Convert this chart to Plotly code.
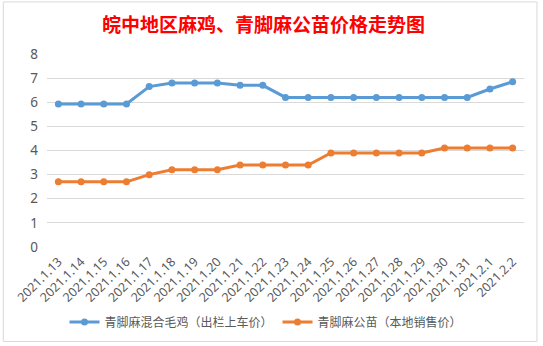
import plotly.graph_objects as go

dates = ["2021.1.13", "2021.1.14", "2021.1.15", "2021.1.16", "2021.1.17", "2021.1.18",
         "2021.1.19", "2021.1.20", "2021.1.21", "2021.1.22", "2021.1.23", "2021.1.24",
         "2021.1.25", "2021.1.26", "2021.1.27", "2021.1.28", "2021.1.29", "2021.1.30",
         "2021.1.31", "2021.2.1", "2021.2.2"]
mixed_chicken = [5.93, 5.93, 5.93, 5.93, 6.65, 6.8, 6.8, 6.8, 6.7, 6.7, 6.2, 6.2,
                 6.2, 6.2, 6.2, 6.2, 6.2, 6.2, 6.2, 6.55, 6.85]
male_chick = [2.7, 2.7, 2.7, 2.7, 3.0, 3.2, 3.2, 3.2, 3.4, 3.4, 3.4, 3.4,
              3.9, 3.9, 3.9, 3.9, 3.9, 4.1, 4.1, 4.1, 4.1]
series_names = ["青脚麻混合毛鸡（出栏上车价）", "青脚麻公苗（本地销售价）"]
title_text = "皖中地区麻鸡、青脚麻公苗价格走势图"
y_ticks = [0, 1, 2, 3, 4, 5, 6, 7, 8]

W, H = 543, 346
L, R, T, B = 46.7, 524, 54, 246.7

fig = go.Figure()
for name, vals, col in [(series_names[0], mixed_chicken, "#5B9BD5"),
                        (series_names[1], male_chick, "#ED7D31")]:
    fig.add_trace(go.Scatter(
        x=dates, y=vals, name=name, mode="lines+markers",
        line=dict(color=col, width=3),
        marker=dict(color=col, size=7),
    ))

pw, ph = R - L, B - T
def px(x):
    return (x - L) / pw
def py(y):
    return (B - y) / ph

fig.update_layout(
    width=W, height=H,
    margin=dict(l=L, r=W - R, t=T, b=H - B, autoexpand=False),
    paper_bgcolor="white", plot_bgcolor="white",
    font=dict(family="Noto Sans CJK SC, Noto Sans, sans-serif", color="#595959", size=12),
    title=dict(text=title_text, x=263.5 / W, xanchor="center", xref="container",
               y=1 - 25 / H, yanchor="middle", yref="container",
               font=dict(family="Noto Sans CJK SC", size=19, color="#FF0000", weight="bold")),
    showlegend=True,
    legend=dict(orientation="h", xref="container", yref="container",
                x=266 / W, xanchor="center", y=1 - 322 / H, yanchor="middle",
                font=dict(size=12, color="#595959"), itemwidth=30,
                bgcolor="rgba(0,0,0,0)"),
    xaxis=dict(type="category", range=[-0.5, len(dates) - 0.5], tickangle=-45,
               showgrid=False, showline=False, ticks="", zeroline=False,
               ticklabelstandoff=4, automargin=False,
               tickfont=dict(size=12.5, color="#595959", family="Noto Sans, sans-serif")),
    yaxis=dict(range=[0, 8], tickvals=y_ticks, showgrid=True, gridcolor="#D9D9D9",
               gridwidth=1, zeroline=False, showline=False, ticks="",
               ticklabelstandoff=8, automargin=False,
               tickfont=dict(size=13.5, color="#595959", family="Noto Sans, sans-serif")),
    shapes=[dict(type="rect", xref="paper", yref="paper",
                 x0=px(3), x1=px(537), y0=py(341), y1=py(2),
                 line=dict(color="#D9D9D9", width=1), layer="below")],
)

fig.write_html("out.html")
